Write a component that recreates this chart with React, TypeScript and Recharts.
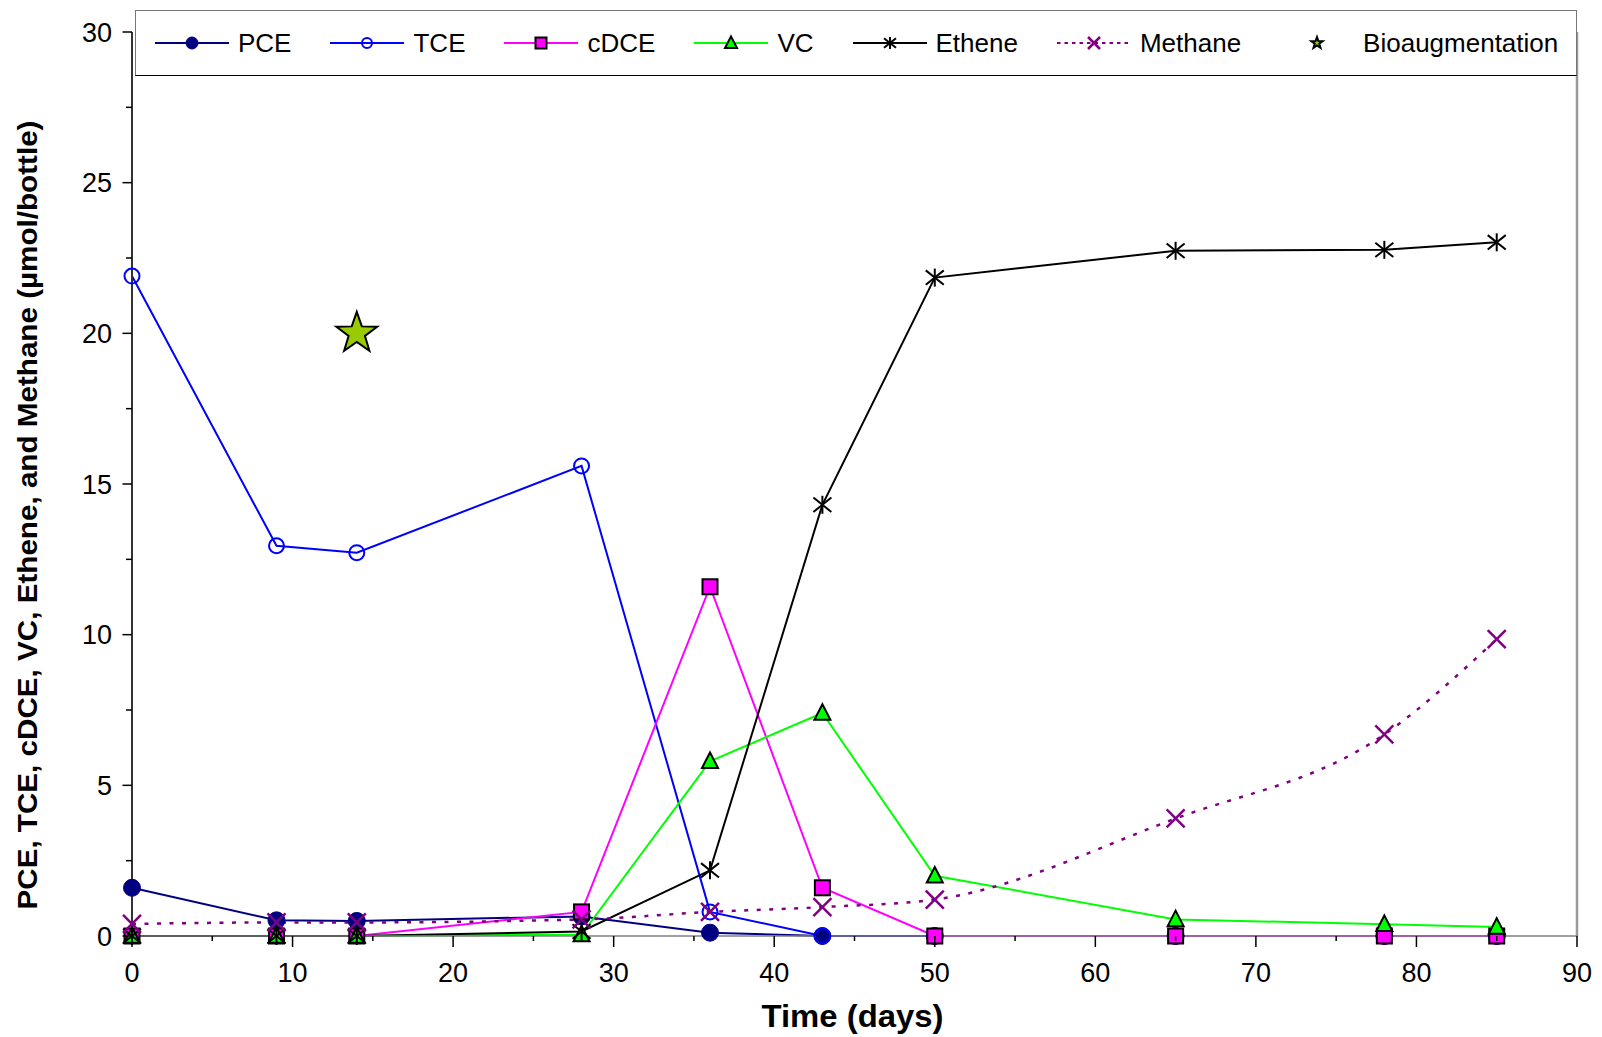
import React from 'react';
import { ComposedChart, Line, Scatter, XAxis, YAxis, ReferenceLine } from 'recharts';

// sampling days and measured amounts (µmol/bottle)
const days = [0, 9, 14, 28, 36, 43, 50, 65, 78, 85];
const pce = [1.6, 0.52, 0.5, 0.65, 0.11, 0, 0, 0, 0, 0];
const tce = [21.9, 12.95, 12.72, 15.6, 0.8, 0, 0, 0, 0, 0];
const cdce = [0, 0, 0, 0.8, 11.59, 1.6, 0, 0, 0, 0];
const vc = [0, 0, 0, 0.05, 5.8, 7.4, 2.0, 0.55, 0.39, 0.3];
const ethene = [0, 0, 0, 0.15, 2.18, 14.31, 21.85, 22.74, 22.77, 23.02];
const methane = [0.4, 0.45, 0.45, 0.55, 0.8, 0.96, 1.21, 3.9, 6.69, 9.85];

const bioDays = [14];
const bioValues = [20];

const xTicks = [0, 5, 10, 15, 20, 25, 30, 35, 40, 45, 50, 55, 60, 65, 70, 75, 80, 85, 90];
const yTicks = [0, 2.5, 5, 7.5, 10, 12.5, 15, 17.5, 20, 22.5, 25, 27.5, 30];

const data = days.map((d, i) => ({
  day: d,
  pce: pce[i],
  tce: tce[i],
  cdce: cdce[i],
  vc: vc[i],
  ethene: ethene[i],
  methane: methane[i],
}));
const bioData = bioDays.map((d, i) => ({ day: d, bio: bioValues[i] }));

const FONT = '"Liberation Sans", Arial, sans-serif';

const starPoints = (cx: number, cy: number, r: number) => {
  const pts: string[] = [];
  for (let k = 0; k < 10; k++) {
    const rad = k % 2 === 0 ? r : r * 0.4;
    const a = -Math.PI / 2 + (k * Math.PI) / 5;
    pts.push(`${cx + rad * Math.cos(a)},${cy + rad * Math.sin(a)}`);
  }
  return pts.join(' ');
};

// marker shapes
const Dot = ({ cx, cy, r }: any) => <circle cx={cx} cy={cy} r={r} fill="#000080" stroke="#000080" strokeWidth={1} />;
const Ring = ({ cx, cy, r }: any) => <circle cx={cx} cy={cy} r={r} fill="none" stroke="#0000FF" strokeWidth={2} />;
const Square = ({ cx, cy, s }: any) => (
  <rect x={cx - s / 2} y={cy - s / 2} width={s} height={s} fill="#FF00FF" stroke="#000" strokeWidth={2} />
);
const Tri = ({ cx, cy, s }: any) => (
  <polygon
    points={`${cx},${cy - s * 0.55} ${cx - s / 2},${cy + s * 0.42} ${cx + s / 2},${cy + s * 0.42}`}
    fill="#00FF00"
    stroke="#000"
    strokeWidth={2}
  />
);
const Aster = ({ cx, cy, s }: any) => (
  <g stroke="#000" strokeWidth={2}>
    <line x1={cx} y1={cy - s} x2={cx} y2={cy + s} />
    <line x1={cx - s} y1={cy - s * 0.8} x2={cx + s} y2={cy + s * 0.8} />
    <line x1={cx - s} y1={cy + s * 0.8} x2={cx + s} y2={cy - s * 0.8} />
  </g>
);
const Cross = ({ cx, cy, s }: any) => (
  <g stroke="#800080" strokeWidth={2.5}>
    <line x1={cx - s} y1={cy - s} x2={cx + s} y2={cy + s} />
    <line x1={cx - s} y1={cy + s} x2={cx + s} y2={cy - s} />
  </g>
);
const Star = ({ cx, cy, r }: any) => (
  <polygon points={starPoints(cx, cy, r)} fill="#99CC00" stroke="#000" strokeWidth={2} />
);

const XTick = ({ x, y, payload }: any) => {
  const major = payload.value % 10 === 0;
  return (
    <g>
      <line x1={x} x2={x} y1={y} y2={y + (major ? 11 : 5)} stroke="#000" strokeWidth={1.5} />
      {major && (
        <text x={x} y={y + 46} textAnchor="middle" fontSize={27} fontFamily={FONT} fill="#000">
          {payload.value}
        </text>
      )}
    </g>
  );
};

const YTick = ({ x, y, payload }: any) => {
  const major = payload.value % 5 === 0;
  return (
    <g>
      <line x1={x - (major ? 9.5 : 6)} x2={x} y1={y} y2={y} stroke="#000" strokeWidth={1.5} />
      {major && (
        <text x={x - 20} y={y} dy="0.36em" textAnchor="end" fontSize={27} fontFamily={FONT} fill="#000">
          {payload.value}
        </text>
      )}
    </g>
  );
};

const legendItems = [
  { name: 'PCE', color: '#000080', dash: undefined, marker: (cx: number, cy: number) => <Dot cx={cx} cy={cy} r={6} /> },
  { name: 'TCE', color: '#0000FF', dash: undefined, marker: (cx: number, cy: number) => <Ring cx={cx} cy={cy} r={5} /> },
  { name: 'cDCE', color: '#FF00FF', dash: undefined, marker: (cx: number, cy: number) => <Square cx={cx} cy={cy} s={11} /> },
  { name: 'VC', color: '#00FF00', dash: undefined, marker: (cx: number, cy: number) => <Tri cx={cx} cy={cy} s={12} /> },
  { name: 'Ethene', color: '#000', dash: undefined, marker: (cx: number, cy: number) => <Aster cx={cx} cy={cy} s={6} /> },
  { name: 'Methane', color: '#800080', dash: '3.5 4', marker: (cx: number, cy: number) => <Cross cx={cx} cy={cy} s={6} /> },
  { name: 'Bioaugmentation', color: 'none', dash: undefined, marker: (cx: number, cy: number) => <Star cx={cx} cy={cy} r={6} /> },
];

const ChartLegend = () => (
  <div
    style={{
      position: 'absolute',
      left: 135,
      top: 10,
      width: 1442,
      height: 66,
      boxSizing: 'border-box',
      background: '#fff',
      borderTop: '1px solid #777',
      borderLeft: '1px solid #777',
      borderRight: '1px solid #777',
      borderBottom: '1px solid #000',
      display: 'flex',
      alignItems: 'center',
      paddingLeft: 19,
      gap: 39,
      fontFamily: FONT,
      fontSize: 26,
    }}
  >
    {legendItems.map((it) => (
      <div key={it.name} style={{ display: 'flex', alignItems: 'center' }}>
        <svg width={74} height={20} style={{ marginRight: 9 }}>
          {it.color !== 'none' && (
            <line x1={0} x2={74} y1={10} y2={10} stroke={it.color} strokeWidth={2} strokeDasharray={it.dash} />
          )}
          {it.marker(37, 10)}
        </svg>
        <span>{it.name}</span>
      </div>
    ))}
  </div>
);

export default function App() {
  return (
    <div style={{ position: 'absolute', left: 0, top: 0, width: 1602, height: 1037, background: '#fff' }}>
      <ComposedChart width={1602} height={1037} data={data} margin={{ top: 32, right: 25, bottom: 0, left: 0 }}>
        <XAxis
          type="number"
          dataKey="day"
          domain={[0, 90]}
          ticks={xTicks}
          interval={0}
          tickSize={0}
          tickMargin={0}
          tickLine={false}
          height={101}
          axisLine={{ stroke: '#808080', strokeWidth: 1.5 }}
          tick={(p: any) => <XTick {...p} />}
          label={{
            content: ({ viewBox }: any) => (
              <text
                x={viewBox.x + viewBox.width / 2 - 2}
                y={viewBox.y + 91}
                textAnchor="middle"
                fontSize={31}
                fontWeight="bold"
                fontFamily={FONT}
                textLength={182}
                lengthAdjust="spacingAndGlyphs"
                fill="#000"
              >
                Time (days)
              </text>
            ),
          }}
        />
        <YAxis
          type="number"
          domain={[0, 30]}
          ticks={yTicks}
          interval={0}
          width={132}
          tickSize={0}
          tickMargin={0}
          tickLine={false}
          axisLine={{ stroke: '#333', strokeWidth: 2 }}
          tick={(p: any) => <YTick {...p} />}
          label={{
            content: () => (
              <text
                x={37}
                y={515}
                transform="rotate(-90, 37, 515)"
                textAnchor="middle"
                fontSize={27}
                fontWeight="bold"
                fontFamily={FONT}
                textLength={789}
                lengthAdjust="spacingAndGlyphs"
                fill="#000"
              >
                PCE, TCE, cDCE, VC, Ethene, and Methane (µmol/bottle)
              </text>
            ),
          }}
        />
        <ReferenceLine x={90} stroke="#999" strokeWidth={2.5} />
        <Line
          type="linear"
          dataKey="pce"
          stroke="#000080"
          strokeWidth={2}
          isAnimationActive={false}
          dot={(p: any) => <Dot key={`pce-${p.index}`} cx={p.cx} cy={p.cy} r={8.5} />}
        />
        <Line
          type="linear"
          dataKey="tce"
          stroke="#0000FF"
          strokeWidth={2}
          isAnimationActive={false}
          dot={(p: any) => <Ring key={`tce-${p.index}`} cx={p.cx} cy={p.cy} r={7.5} />}
        />
        <Line
          type="linear"
          dataKey="cdce"
          stroke="#FF00FF"
          strokeWidth={2}
          isAnimationActive={false}
          dot={(p: any) => <Square key={`cdce-${p.index}`} cx={p.cx} cy={p.cy} s={15} />}
        />
        <Line
          type="linear"
          dataKey="vc"
          stroke="#00FF00"
          strokeWidth={2}
          isAnimationActive={false}
          dot={(p: any) => <Tri key={`vc-${p.index}`} cx={p.cx} cy={p.cy} s={16} />}
        />
        <Line
          type="linear"
          dataKey="ethene"
          stroke="#000"
          strokeWidth={2}
          isAnimationActive={false}
          dot={(p: any) => <Aster key={`eth-${p.index}`} cx={p.cx} cy={p.cy} s={9} />}
        />
        <Line
          type="monotone"
          dataKey="methane"
          stroke="#800080"
          strokeWidth={2.5}
          strokeDasharray="4 8.5"
          isAnimationActive={false}
          dot={(p: any) => <Cross key={`met-${p.index}`} cx={p.cx} cy={p.cy} s={9} />}
        />
        <Scatter
          data={bioData}
          dataKey="bio"
          isAnimationActive={false}
          shape={(p: any) => <Star cx={p.cx} cy={p.cy} r={21.5} />}
        />
      </ComposedChart>
      <ChartLegend />
    </div>
  );
}
